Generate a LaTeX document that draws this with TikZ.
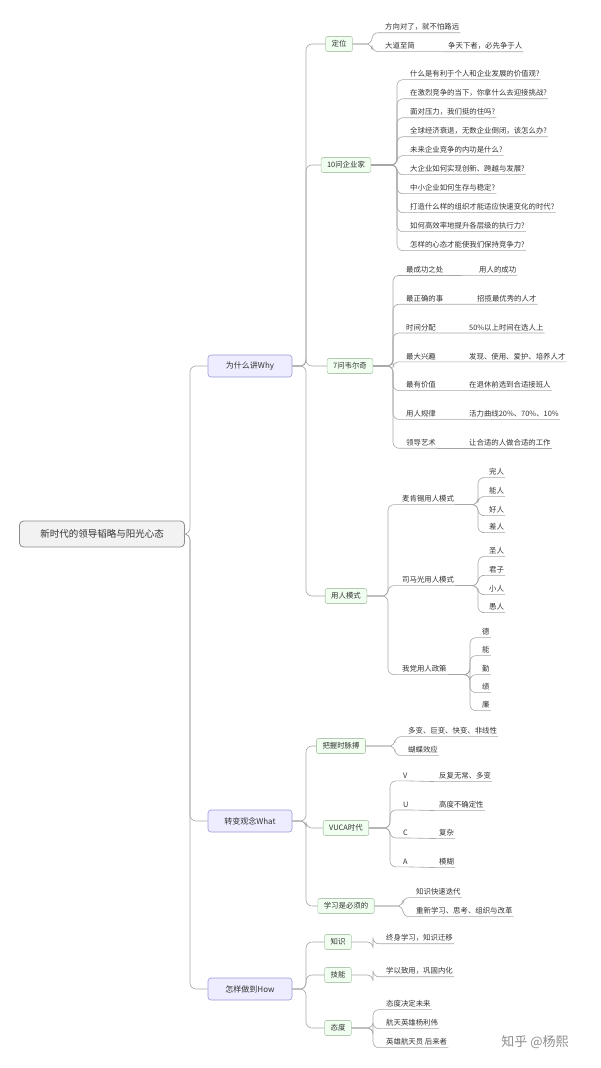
\documentclass[tikz,border=0pt]{standalone}
\usepackage{fontspec}
\newfontfamily\cjk{Noto Sans CJK SC}
\begin{document}
\begin{tikzpicture}[x=1pt,y=-1pt,
  every node/.style={font=\cjk\fontsize{7.4}{8}\selectfont,text=black!80},
  conn/.style={draw=black!35,line width=0.6pt,rounded corners=6pt},
  rootbox/.style={draw=black!45,fill=black!5,rounded corners=4pt,minimum width=165pt,minimum height=26pt,line width=0.8pt,font=\cjk\fontsize{9.5}{11}\selectfont},
  l1box/.style={draw=black!35!blue!40,fill=blue!7,rounded corners=3pt,minimum width=84pt,minimum height=22pt,line width=0.6pt,font=\cjk\fontsize{8}{9}\selectfont},
  l2box/.style={draw=green!30!black!30,fill=green!6,rounded corners=2pt,minimum height=15pt,inner xsep=6pt,line width=0.6pt},
  leaf/.style={anchor=west,inner xsep=1pt,inner ysep=2pt}]
\useasboundingbox (0,0) rectangle (600,1068);
\newcommand\lk[6]{\node[leaf] (#1) at (#2,#3) {#4};
  \draw[conn] (#5) -- (#5 -| #6,0) -- (#6,0 |- #1.south west) -- (#1.south west) -- (#1.south east);}
\newcommand\ls[5]{\node[leaf] (#1) at (#2,#3) {#4};
  \draw[conn] (#5.south east) -- (#1.south west) -- (#1.south east);}
\newcommand\bx[6]{\node[l2box] (#1) at (#2,#3) {#4};
  \draw[conn] (#5.east) -- (#5.east -| #6,0) -- (#6,0 |- #1.west) -- (#1.west);}
% root and level 1
\node[rootbox] (root) at (102,534) {新时代的领导韬略与阳光心态};
\node[l1box] (why) at (250,366) {为什么讲Why};
\node[l1box] (what) at (250,821) {转变观念What};
\node[l1box] (how) at (250,989) {怎样做到How};
\foreach \n in {why,what,how}{\draw[conn] (root.east) -- (190,534) -- (190,0 |- \n.west) -- (\n.west);}
% Why
\bx{dw}{339}{44}{定位}{why}{306}
\bx{qten}{346}{165}{10问企业家}{why}{306}
\bx{qseven}{350}{366}{7问韦尔奇}{why}{306}
\bx{yr}{346}{596}{用人模式}{why}{306}
\lk{a1}{384}{27}{方向对了，就不怕路远}{dw.east}{372}
\lk{a2}{384}{46}{大道至简}{dw.east}{372}
\ls{a3}{447}{46}{争天下者，必先争于人}{a2}
\foreach[count=\i] \t in {什么是有利于个人和企业发展的价值观?,在激烈竞争的当下，你拿什么去迎接挑战?,面对压力，我们挺的住吗?,全球经济衰退，无数企业倒闭，该怎么办?,未来企业竞争的内功是什么?,大企业如何实现创新、跨越与发展?,中小企业如何生存与稳定?,打造什么样的组织才能适应快速变化的时代?,如何高效率地提升各层级的执行力?,怎样的心态才能使我们保持竞争力?}{
  \lk{qq\i}{409}{55+19*\i}{\t}{qten.east}{397}}
\foreach[count=\i] \a/\b/\bxx in {最成功之处/用人的成功/478,最正确的事/招揽最优秀的人才/476,时间分配/50\%以上时间在选人上/468,最大兴趣/发现、使用、爱护、培养人才/468,最有价值/在退休前选到合适接班人/468,用人规律/活力曲线20\%、70\%、10\%/468,领导艺术/让合适的人做合适的工作/468}{
  \lk{w\i}{405}{241+28.8*\i}{\a}{qseven.east}{393}
  \ls{v\i}{\bxx}{241+28.8*\i}{\b}{w\i}}
\lk{m1}{401}{499}{麦肯锡用人模式}{yr.east}{388}
\lk{m2}{401}{580}{司马光用人模式}{yr.east}{388}
\lk{m3}{401}{669}{我党用人政策}{yr.east}{388}
\foreach[count=\i] \t/\y in {完人/472,能人/491,好人/510,差人/527}{\lk{ma\i}{488}{\y}{\t}{m1.south east}{478}}
\foreach[count=\i] \t/\y in {圣人/551,君子/570,小人/589,愚人/607}{\lk{mb\i}{488}{\y}{\t}{m2.south east}{478}}
\foreach[count=\i] \t/\y in {德/632,能/650,勤/669,绩/687,廉/705}{\lk{mc\i}{481}{\y}{\t}{m3.south east}{470}}
% What
\bx{mb}{341}{746}{把握时脉搏}{what}{306}
\bx{vu}{346}{828}{VUCA时代}{what}{306}
\bx{xx}{346}{906}{学习是必须的}{what}{306}
\lk{b1}{407}{731}{多变、巨变、快变、非线性}{mb.east}{395}
\lk{b2}{407}{750}{蝴蝶效应}{mb.east}{395}
\foreach[count=\i] \a/\b/\y in {V/反复无常、多变/776,U/高度不确定性/805,C/复杂/833,A/模糊/862}{
  \lk{u\i}{402}{\y}{\a}{vu.east}{390}
  \ls{t\i}{438}{\y}{\b}{u\i}}
\lk{c1}{415}{892}{知识快速迭代}{xx.east}{403}
\lk{c2}{415}{911}{重新学习、思考、组织与改革}{xx.east}{403}
% How
\bx{zs}{338}{942}{知识}{how}{306}
\bx{jn}{338}{975}{技能}{how}{306}
\bx{td}{338}{1028}{态度}{how}{306}
\lk{d1}{385}{938}{终身学习，知识迁移}{zs.east}{373}
\lk{d2}{385}{971}{学以致用，巩固内化}{jn.east}{373}
\lk{d3}{385}{1004}{态度决定未来}{td.east}{373}
\lk{d4}{385}{1023}{航天英雄杨利伟}{td.east}{373}
\lk{d5}{385}{1042}{英雄航天员 后来者}{td.east}{373}
\node[font=\cjk\fontsize{13}{14}\selectfont,text=black!45] (wm) at (535,1042) {知乎 @杨熙};
\end{tikzpicture}
\end{document}
